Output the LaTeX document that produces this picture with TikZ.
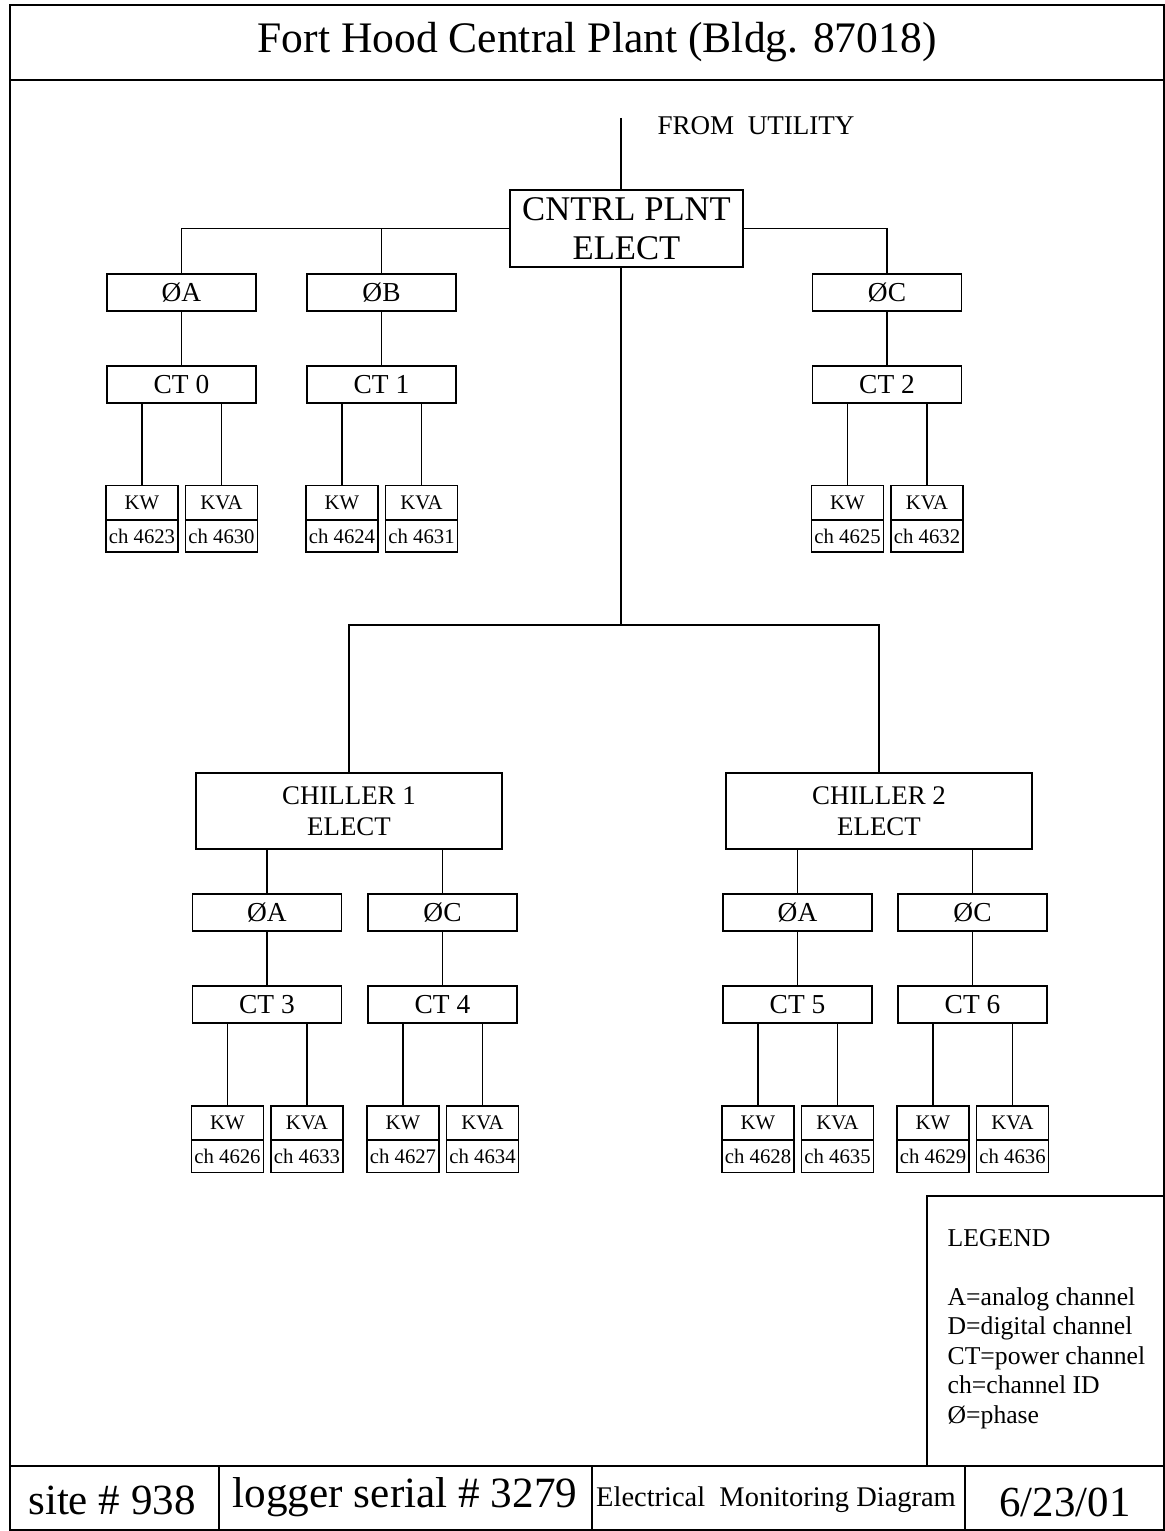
\documentclass[tikz,border=0pt]{standalone}
\usepackage{fontspec}
\setmainfont{Liberation Serif}

\begin{document}
\begin{tikzpicture}[x=0.02cm,y=-0.02cm,line width=0.8pt,
    box/.style={draw,minimum width=2.98cm,minimum height=0.74cm,inner sep=0pt,font=\fontsize{15.6}{18}\selectfont},
    bigbox/.style={draw,minimum width=6.12cm,minimum height=1.52cm,inner sep=0pt,align=center,font=\fontsize{15.3}{17.6}\selectfont},
    kwbox/.style={draw,minimum width=1.44cm,minimum height=0.68cm,inner sep=0pt,font=\fontsize{11.8}{14}\selectfont},
    chbox/.style={draw,minimum width=1.44cm,minimum height=0.64cm,inner sep=0pt,font=\fontsize{11.8}{14}\selectfont},
    lbl/.style={inner sep=0pt}]
    \useasboundingbox (0,0) rectangle (1165,1531);
    \draw (10,5) rectangle (1164,1530);
    \draw (10,80) -- (1164,80);
    \draw (10,1466) -- (1164,1466);
    \draw (927,1466) |- (1164,1196);
    \draw (219,1466) -- (219,1530); \draw (592,1466) -- (592,1530); \draw (965,1466) -- (965,1530);
    \node[lbl,font=\fontsize{24.8}{28}\selectfont] (title) at (597,42) {Fort Hood Central Plant (Bldg. 87018)};
    \node[lbl,font=\fontsize{24.5}{28}\selectfont] (site) at (112,1500) {site \# 938};
    \node[lbl,font=\fontsize{24.6}{28}\selectfont] (logger) at (405,1497) {logger serial \# 3279};
    \node[lbl,font=\fontsize{16.2}{19}\selectfont] (diag) at (776,1500) {Electrical\ \ Monitoring Diagram};
    \node[lbl,font=\fontsize{24.4}{28}\selectfont] (date) at (1065,1502) {6/23/01};
    \node[lbl,anchor=west,font=\fontsize{14.6}{16.8}\selectfont] (legend) at (947,1238) {LEGEND};
    \node[lbl,anchor=west,align=left,font=\fontsize{14.6}{16.8}\selectfont] (keys) at (947,1358)
        {A=analog channel\\D=digital channel\\CT=power channel\\ch=channel ID\\Ø=phase};
    \coordinate (util) at (621,118);
    \node[lbl,font=\fontsize{15.4}{18}\selectfont] (from) at (756,126) {FROM\ \ UTILITY};
    \node[draw,minimum width=4.66cm,minimum height=1.54cm,inner sep=0pt,align=center,
          font=\fontsize{19.7}{22}\selectfont] (cntrl) at (626.5,228.5) {CNTRL PLNT\\ELECT};
    \node[box] (pA0) at (181.5,292.5) {ØA}; \node[box] (pB0) at (381.5,292.5) {ØB};
    \node[box] (pC0) at (887,292.5) {ØC};
    \node[box] (ct0) at (181.5,384.5) {CT 0}; \node[box] (ct1) at (381.5,384.5) {CT 1};
    \node[box] (ct2) at (887,384.5) {CT 2};
    \node[bigbox] (ch1) at (349,811) {CHILLER 1\\ELECT};
    \node[bigbox] (ch2) at (879,811) {CHILLER 2\\ELECT};
    \node[box] (pA1) at (267,912.5) {ØA}; \node[box] (pC1) at (442.5,912.5) {ØC};
    \node[box] (pA2) at (797.5,912.5) {ØA}; \node[box] (pC2) at (972.5,912.5) {ØC};
    \node[box] (ct3) at (267,1004.5) {CT 3}; \node[box] (ct4) at (442.5,1004.5) {CT 4};
    \node[box] (ct5) at (797.5,1004.5) {CT 5}; \node[box] (ct6) at (972.5,1004.5) {CT 6};
    \coordinate (bus) at (621,625);
    \draw (util) -- (util |- cntrl.north);
    \draw (cntrl.west) -| (pA0.north); \draw (pB0.north) -- (pB0.north |- cntrl.west);
    \draw (cntrl.east) -| (pC0.north);
    \draw (pA0) -- (ct0); \draw (pB0) -- (ct1); \draw (pC0) -- (ct2);
    \draw (util |- cntrl.south) -- (bus);
    \draw (ch1.north) |- (bus) -| (ch2.north);
    \draw (pA1.north) -- (pA1.north |- ch1.south); \draw (pC1.north) -- (pC1.north |- ch1.south);
    \draw (pA2.north) -- (pA2.north |- ch2.south); \draw (pC2.north) -- (pC2.north |- ch2.south);
    \draw (pA1) -- (ct3); \draw (pC1) -- (ct4); \draw (pA2) -- (ct5); \draw (pC2) -- (ct6);
    \foreach \n/\x/\y/\p/\q in {0/181.5/502.5/4623/4630, 1/381.5/502.5/4624/4631,
        2/887/502.5/4625/4632, 3/267/1123/4626/4633, 4/442.5/1123/4627/4634,
        5/797.5/1123/4628/4635, 6/972.5/1123/4629/4636}{
      \node[kwbox] (kw\n) at (\x-39.5,\y) {KW};
      \node[kwbox] (kva\n) at (\x+40,\y) {KVA};
      \node[chbox] (chw\n) at (\x-39.5,\y+33.5) {ch \p};
      \node[chbox] (chv\n) at (\x+40,\y+33.5) {ch \q};
      \draw (kw\n.north) -- (kw\n.north |- ct\n.south);
      \draw (kva\n.north) -- (kva\n.north |- ct\n.south);
    }
  \end{tikzpicture}
\end{document}
